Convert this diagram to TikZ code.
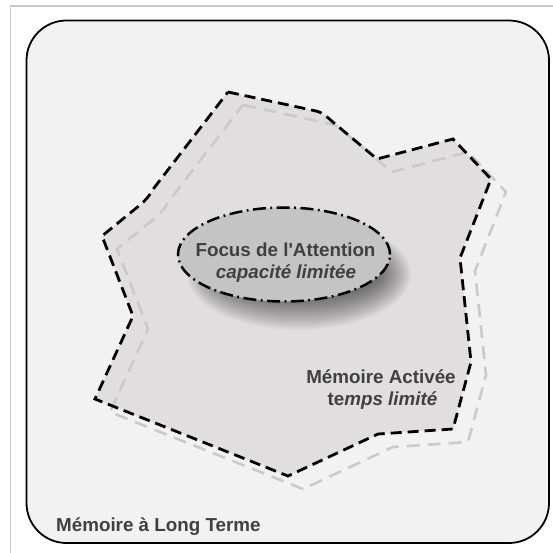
\documentclass[tikz,border=0pt]{standalone}
\usepackage{fontspec}
\newfontfamily\lib{Liberation Sans}
\definecolor{bgcol}{HTML}{F3F2F3}
\definecolor{regioncol}{HTML}{E0DEDF}
\definecolor{focuscol}{HTML}{C4C4C4}
\definecolor{textcol}{HTML}{404040}
\definecolor{graydash}{HTML}{CACACA}
\definecolor{framecol}{HTML}{C8C8C8}
\newcommand\regionshape{(228,92) -- (316,111) .. controls (324,113) and (328,118) .. (334,123) -- (377,159) -- (453,139) -- (491,179) -- (460,258) -- (471,362) -- (453,429) -- (378,434) -- (288,476) -- (95,399) -- (133,316) -- (102,236) -- (140,205) .. controls (146,200) and (150,195) .. (154,188) -- cycle}
\begin{document}
\begin{tikzpicture}[x=1bp,y=-1bp,
  txt/.style={font=\lib\fontsize{18.8bp}{22bp}\selectfont\bfseries, text=textcol, inner sep=0pt},
  blackdash/.style={draw=black, line width=2.8bp, dash pattern=on 11bp off 6bp},
  greydash/.style={draw=graydash, line width=2.6bp, dash pattern=on 13bp off 8bp},
  focusline/.style={draw=black, line width=2.5bp, dash pattern=on 13bp off 4.5bp on 1.8bp off 4.5bp}]
\useasboundingbox (0,0) rectangle (553,553);
\fill[white] (0,0) rectangle (553,553);
\draw[framecol, line width=1.5bp] (10.5,560) -- (10.5,6) -- (560,6);
\draw[black, line width=1.8bp, fill=bgcol, rounded corners=40bp] (26.5,20.5) rectangle (549,543);
% activated memory region
\fill[regioncol] \regionshape;
\draw[greydash, shift={(15,13)}] \regionshape;
% blurred shadow of focus
\foreach \r in {0,1.5,...,30} {
  \fill[black, opacity=0.028] (299,274) ellipse [x radius={(82+\r)*1bp}, y radius={(26+\r)*1bp}];
}
\draw[blackdash] \regionshape;
% focus of attention
\draw[focusline, fill=focuscol] (284,254.5) ellipse [x radius=106bp, y radius=47bp];
\node[txt, anchor=base] (focus) at (285.5,256) {Focus de l'Attention};
\node[txt, anchor=base] (cap) at (286,278) {\itshape capacité limitée};
\node[txt, anchor=base] (act) at (381,383) {Mémoire Activée};
\node[txt, anchor=base] (temps) at (382.5,405) {te\itshape mps limité};
\node[txt, anchor=base west] (mlt) at (56,531) {Mémoire à Long Terme};
\end{tikzpicture}
\end{document}
